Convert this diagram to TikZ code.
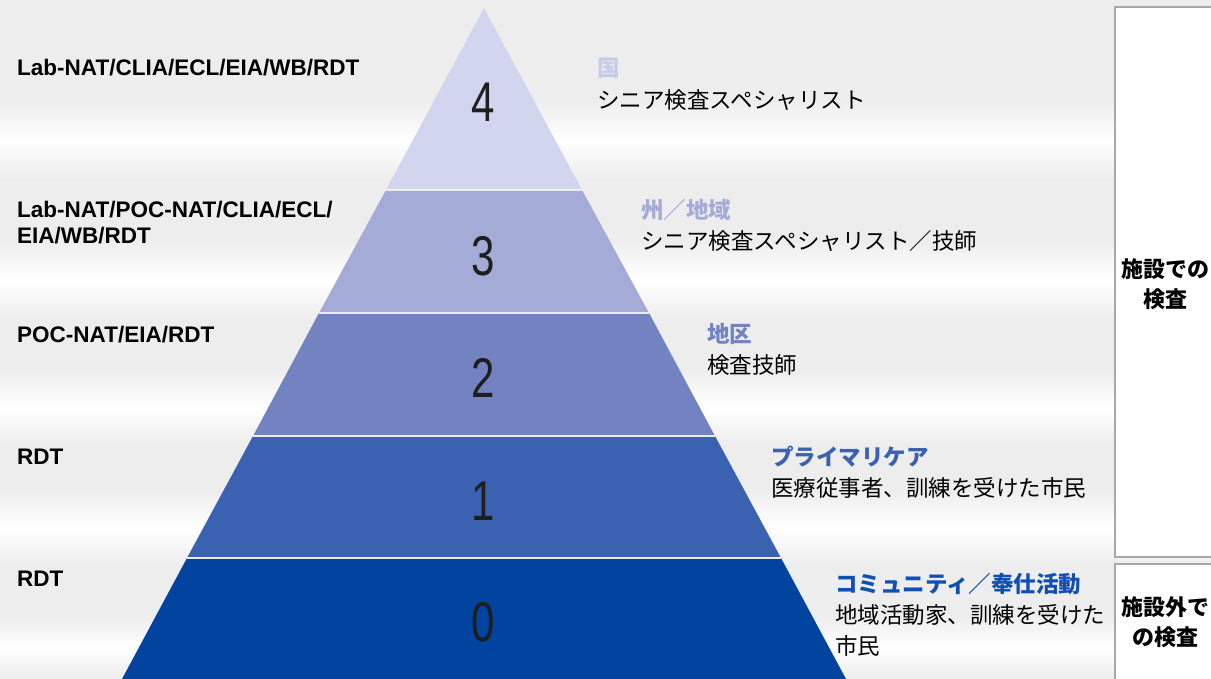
\documentclass[tikz,border=0pt]{standalone}
\usepackage{fontspec}
\usepackage{graphicx}
\setmainfont{Liberation Sans}
\newfontfamily\cjk{Noto Sans CJK JP}
\definecolor{bg}{HTML}{EDEDED}
\definecolor{cfour}{HTML}{D1D5EE}
\definecolor{cthree}{HTML}{A4ABD6}
\definecolor{ctwo}{HTML}{7383C2}
\definecolor{cone}{HTML}{3A62B0}
\definecolor{czero}{HTML}{0044A0}
\definecolor{lfour}{HTML}{C5CBEA}
\definecolor{lzero}{HTML}{1050B0}
\definecolor{boxline}{HTML}{A8A8A8}
\definecolor{numc}{HTML}{1E1E1E}
\begin{document}
\begin{tikzpicture}[x=1pt,y=-1pt,
  tech/.style={anchor=north west,inner sep=0pt,font=\fontsize{22.5}{26}\selectfont\bfseries,align=left},
  lvl/.style={anchor=north west,inner sep=0pt,font=\fontsize{22.5}{31}\selectfont\cjk\bfseries},
  role/.style={anchor=north west,inner sep=0pt,font=\fontsize{22.5}{31}\selectfont\cjk,align=left},
  num/.style={inner sep=0pt,text=numc,font=\fontsize{56}{56}\selectfont},
  sidebox/.style={draw=boxline,line width=1.2pt,fill=white},
  sidetext/.style={inner sep=0pt,align=center,font=\fontsize{22}{30}\selectfont\cjk\bfseries},
  sep/.style={draw=white!85!gray,line width=2pt}]
\useasboundingbox (0,0) rectangle (1211,679);
\fill[bg] (0,0) rectangle (1211,679);
\foreach \a/\m/\b in {100/140/180, 240/280/320, 370/408/445, 490/528/565, 615/648/679}{
  \shade[top color=bg,bottom color=white] (0,\a) rectangle (1211,\m);
  \shade[top color=white,bottom color=bg] (0,\m) rectangle (1211,\b);
}
% pyramid bands
\fill[czero] (187,558) -- (781,558) -- (846,679) -- (122,679) -- cycle;
\fill[cone] (253,436) -- (715,436) -- (781,558) -- (187,558) -- cycle;
\fill[ctwo] (319,313) -- (649,313) -- (715,436) -- (253,436) -- cycle;
\fill[cthree] (386,190) -- (582,190) -- (649,313) -- (319,313) -- cycle;
\fill[cfour] (484,8) -- (582,190) -- (386,190) -- cycle;
\draw[sep] (386,190) -- (582,190);
\draw[sep] (319,313) -- (649,313);
\draw[sep] (253,436) -- (715,436);
\draw[sep] (187,558) -- (781,558);
% numbers
\node[num] (n4) at (483,102) {\scalebox{0.75}[1]{4}};
\node[num] (n3) at (483,256) {\scalebox{0.75}[1]{3}};
\node[num] (n2) at (483,378) {\scalebox{0.75}[1]{2}};
\node[num] (n1) at (483,501) {\scalebox{0.75}[1]{1}};
\node[num] (n0) at (483,622) {\scalebox{0.75}[1]{0}};
% left technologies
\node[tech] (t4) at (17,59) {Lab-NAT/CLIA/ECL/EIA/WB/RDT};
\node[tech] (t3) at (17,201) {Lab-NAT/POC-NAT/CLIA/ECL/\\EIA/WB/RDT};
\node[tech] (t2) at (17,326) {POC-NAT/EIA/RDT};
\node[tech] (t1) at (17,449) {RDT};
\node[tech] (t0) at (17,571) {RDT};
% right labels
\node[lvl,text=lfour] (l4) at (597,58) {国};
\node[role] (r4) at (597,89) {シニア検査スペシャリスト};
\node[lvl,text=cthree] (l3) at (641,199) {州／地域};
\node[role] (r3) at (641,230) {シニア検査スペシャリスト／技師};
\node[lvl,text=ctwo] (l2) at (707,323) {地区};
\node[role] (r2) at (707,354) {検査技師};
\node[lvl,text=cone] (l1) at (771,446) {プライマリケア};
\node[role] (r1) at (771,477) {医療従事者、訓練を受けた市民};
\node[lvl,text=lzero] (l0) at (835,573) {コミュニティ／奉仕活動};
\node[role] (r0) at (835,604) {地域活動家、訓練を受けた\\市民};
% side boxes
\draw[sidebox] (1115,7) rectangle (1216,557);
\draw[sidebox] (1115,564) rectangle (1216,684);
\node[sidetext] (s1) at (1165,284) {施設での\\検査};
\node[sidetext] (s2) at (1165,622) {施設外で\\の検査};
\end{tikzpicture}
\end{document}
